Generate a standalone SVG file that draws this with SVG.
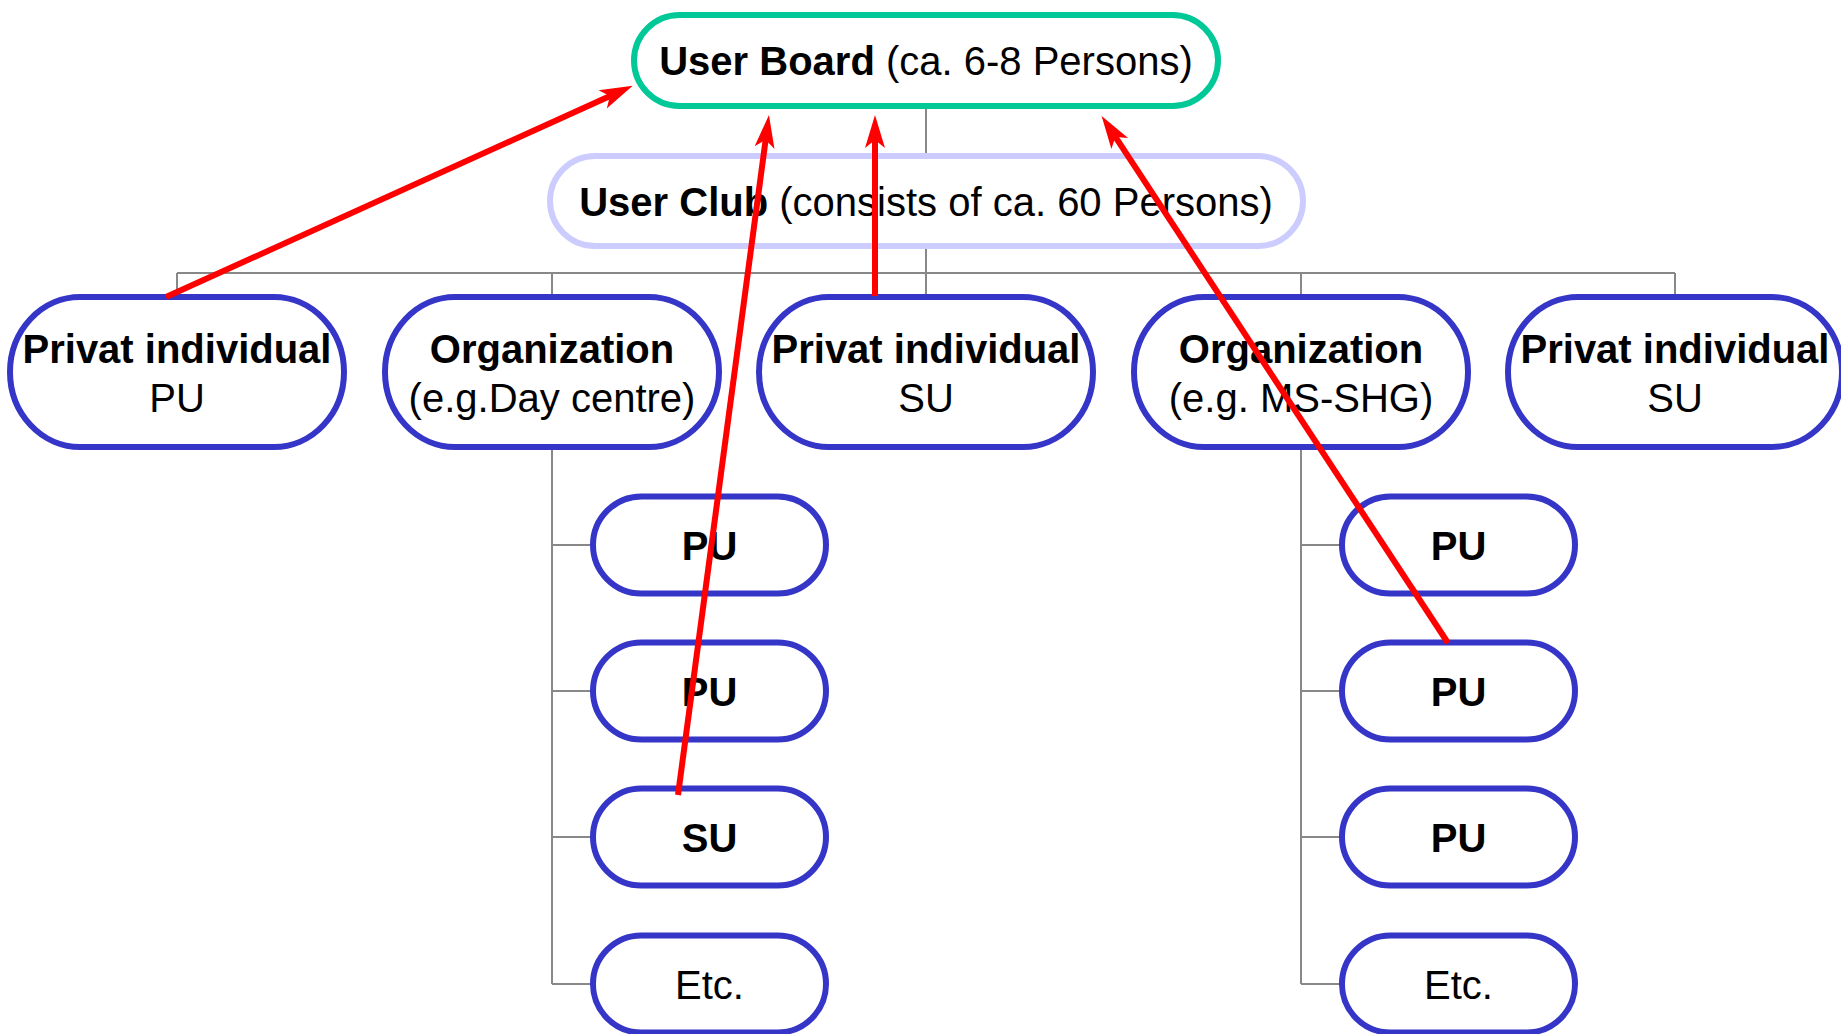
<svg xmlns="http://www.w3.org/2000/svg" width="1841" height="1034" viewBox="0 0 1841 1034">
<style>
text{font-family:"Liberation Sans",Arial,sans-serif;font-size:40px;fill:#000;text-anchor:middle}
.b{font-weight:bold}
.node{fill:#fff;stroke:#3535c8;stroke-width:6}
.tree{fill:none;stroke:#888;stroke-width:2}
.arrow{fill:none;stroke:#ff0000;stroke-width:6;marker-end:url(#ah)}
</style>
<defs>
<marker id="ah" markerUnits="userSpaceOnUse" orient="auto" refX="13" refY="10" markerWidth="34" markerHeight="20" overflow="visible">
<path d="M0,0 L33,10 L0,20 L8,10 Z" fill="#ff0000"/>
</marker>
</defs>
<rect width="1841" height="1034" fill="#fff"/>
<g id="tree-connectors" class="tree">
<path d="M926,108 V273 M177,273 H1675 M177,273 V297 M552,273 V297 M926,273 V297 M1301,273 V297 M1675,273 V297"/>
<path d="M552,447 V984 M552,545 H593 M552,691 H593 M552,837 H593 M552,984 H593"/>
<path d="M1301,447 V984 M1301,545 H1342 M1301,691 H1342 M1301,837 H1342 M1301,984 H1342"/>
</g>
<g id="user-board">
<rect x="634" y="15" width="584" height="91" rx="45.5" fill="#fff" stroke="#00c896" stroke-width="6"/>
<text x="926" y="75"><tspan class="b">User Board</tspan> (ca. 6-8 Persons)</text>
</g>
<g id="user-club">
<rect x="550" y="156" width="753" height="90" rx="45" fill="#fff" stroke="#ccccff" stroke-width="6"/>
<text x="926" y="216"><tspan class="b">User Club</tspan> (consists of ca. 60 Persons)</text>
</g>
<g id="privat-pu">
<rect class="node" x="10" y="297" width="334" height="150" rx="70" ry="75"/>
<text x="177" y="363" class="b">Privat individual</text>
<text x="177" y="412">PU</text>
</g>
<g id="org-day-centre">
<rect class="node" x="385" y="297" width="334" height="150" rx="70" ry="75"/>
<text x="552" y="363" class="b">Organization</text>
<text x="552" y="412">(e.g.Day centre)</text>
</g>
<g id="privat-su-1">
<rect class="node" x="759" y="297" width="334" height="150" rx="70" ry="75"/>
<text x="926" y="363" class="b">Privat individual</text>
<text x="926" y="412">SU</text>
</g>
<g id="org-ms-shg">
<rect class="node" x="1134" y="297" width="334" height="150" rx="70" ry="75"/>
<text x="1301" y="363" class="b">Organization</text>
<text x="1301" y="412">(e.g. MS-SHG)</text>
</g>
<g id="privat-su-2">
<rect class="node" x="1508" y="297" width="334" height="150" rx="70" ry="75"/>
<text x="1675" y="363" class="b">Privat individual</text>
<text x="1675" y="412">SU</text>
</g>
<g id="day-pu-1">
<rect class="node" x="593" y="496.5" width="233" height="97" rx="48.5"/>
<text x="709.5" y="560" class="b">PU</text>
</g>
<g id="day-pu-2">
<rect class="node" x="593" y="642.5" width="233" height="97" rx="48.5"/>
<text x="709.5" y="706" class="b">PU</text>
</g>
<g id="day-su">
<rect class="node" x="593" y="788.5" width="233" height="97" rx="48.5"/>
<text x="709.5" y="852" class="b">SU</text>
</g>
<g id="day-etc">
<rect class="node" x="593" y="935.5" width="233" height="97" rx="48.5"/>
<text x="709.5" y="999">Etc.</text>
</g>
<g id="ms-pu-1">
<rect class="node" x="1342" y="496.5" width="233" height="97" rx="48.5"/>
<text x="1458.5" y="560" class="b">PU</text>
</g>
<g id="ms-pu-2">
<rect class="node" x="1342" y="642.5" width="233" height="97" rx="48.5"/>
<text x="1458.5" y="706" class="b">PU</text>
</g>
<g id="ms-pu-3">
<rect class="node" x="1342" y="788.5" width="233" height="97" rx="48.5"/>
<text x="1458.5" y="852" class="b">PU</text>
</g>
<g id="ms-etc">
<rect class="node" x="1342" y="935.5" width="233" height="97" rx="48.5"/>
<text x="1458.5" y="999">Etc.</text>
</g>
<g id="arrows">
<path class="arrow" d="M166,297 L614.5,94"/>
<path class="arrow" d="M678,795 L766.3,134.8"/>
<path class="arrow" d="M875,296 L875,135"/>
<path class="arrow" d="M1448,643 L1112.6,132.7"/>
</g>
</svg>
